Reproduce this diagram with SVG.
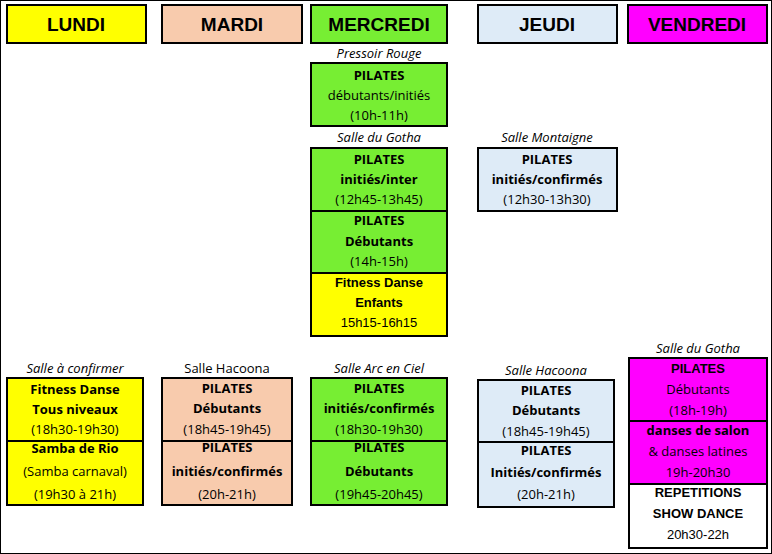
<svg xmlns="http://www.w3.org/2000/svg" width="772" height="554" viewBox="0 0 772 554">
<style>
rect{stroke:#000;stroke-width:2}
.h{font-family:"Liberation Sans",Arial,sans-serif;font-weight:bold;font-size:19px;text-anchor:middle}
.t{font-family:"Open Sans","Noto Sans",sans-serif;font-size:13px;text-anchor:middle}
.b{font-weight:bold}
.i{font-style:italic}
.a{font-family:"Liberation Sans",Arial,sans-serif}
.y{fill:#ffff00}.p{fill:#f8cbad}.g{fill:#77ee33}.l{fill:#deebf7}.m{fill:#ff00ff}.w{fill:#fff}
</style>
<rect width="772" height="554" fill="#fff" stroke="none"/>
<g id="hdr-lundi"><rect class="y" x="7" y="5" width="139" height="38"/><text class="h" x="76" y="31">LUNDI</text></g>
<g id="hdr-mardi"><rect class="p" x="162" y="5" width="140" height="38"/><text class="h" x="232" y="31">MARDI</text></g>
<g id="hdr-mercredi"><rect class="g" x="311" y="5" width="136" height="38"/><text class="h" x="379" y="31">MERCREDI</text></g>
<g id="hdr-jeudi"><rect class="l" x="478" y="5" width="139" height="38"/><text class="h" x="547" y="31">JEUDI</text></g>
<g id="hdr-vendredi"><rect class="m" x="628" y="5" width="139" height="38"/><text class="h" x="697" y="31">VENDREDI</text></g>

<g id="mer1"><text class="t i" x="379" y="58">Pressoir Rouge</text>
<rect class="g" x="311" y="63" width="136" height="63"/>
<text class="t b" x="379" y="80">PILATES</text><text class="t" x="379" y="100">débutants/initiés</text><text class="t" x="379" y="120">(10h-11h)</text></g>
<g id="mer2"><text class="t i" x="379" y="142">Salle du Gotha</text>
<rect class="g" x="311" y="148" width="136" height="63"/>
<text class="t b" x="379" y="164">PILATES</text><text class="t b" x="379" y="184">initiés/inter</text><text class="t" x="379" y="204">(12h45-13h45)</text></g>
<g id="mer3"><rect class="g" x="311" y="211" width="136" height="62"/>
<text class="t b" x="379" y="225">PILATES</text><text class="t b" x="379" y="246">Débutants</text><text class="t" x="379" y="266">(14h-15h)</text></g>
<g id="mer4"><rect class="y" x="311" y="273" width="136" height="63"/>
<text class="t b a" x="379" y="287">Fitness Danse</text><text class="t b a" x="379" y="307">Enfants</text><text class="t a" x="379" y="327">15h15-16h15</text></g>
<g id="jeu1"><text class="t i" x="547" y="142">Salle Montaigne</text>
<rect class="l" x="478" y="148" width="139" height="63"/>
<text class="t b" x="547" y="164">PILATES</text><text class="t b" x="547" y="184">initiés/confirmés</text><text class="t" x="547" y="204">(12h30-13h30)</text></g>

<g id="lun1"><text class="t i" x="75" y="373">Salle à confirmer</text>
<rect class="y" x="7" y="378" width="136" height="63"/>
<text class="t b" x="75" y="394">Fitness Danse</text><text class="t b" x="75" y="414">Tous niveaux</text><text class="t" x="75" y="434">(18h30-19h30)</text></g>
<g id="lun2"><rect class="y" x="7" y="441" width="136" height="64"/>
<text class="t b" x="75" y="453">Samba de Rio</text><text class="t" x="75" y="476">(Samba carnaval)</text><text class="t" x="75" y="499">(19h30 à 21h)</text></g>
<g id="mar1"><text class="t" x="227" y="373">Salle Hacoona</text>
<rect class="p" x="162" y="378" width="130" height="63"/>
<text class="t b" x="227" y="393">PILATES</text><text class="t b" x="227" y="413">Débutants</text><text class="t" x="227" y="434">(18h45-19h45)</text></g>
<g id="mar2"><rect class="p" x="162" y="441" width="130" height="64"/>
<text class="t b" x="227" y="452">PILATES</text><text class="t b" x="227" y="476">initiés/confirmés</text><text class="t" x="227" y="499">(20h-21h)</text></g>
<g id="mer5"><text class="t i" x="379" y="373">Salle Arc en Ciel</text>
<rect class="g" x="311" y="378" width="136" height="63"/>
<text class="t b" x="379" y="393">PILATES</text><text class="t b" x="379" y="413">initiés/confirmés</text><text class="t" x="379" y="434">(18h30-19h30)</text></g>
<g id="mer6"><rect class="g" x="311" y="441" width="136" height="64"/>
<text class="t b" x="379" y="452">PILATES</text><text class="t b" x="379" y="476">Débutants</text><text class="t" x="379" y="499">(19h45-20h45)</text></g>
<g id="jeu2"><text class="t i" x="546" y="375">Salle Hacoona</text>
<rect class="l" x="478" y="380" width="136" height="62"/>
<text class="t b" x="546" y="395">PILATES</text><text class="t b" x="546" y="415">Débutants</text><text class="t" x="546" y="436">(18h45-19h45)</text></g>
<g id="jeu3"><rect class="l" x="478" y="442" width="136" height="65"/>
<text class="t b" x="546" y="455">PILATES</text><text class="t b" x="546" y="477">Initiés/confirmés</text><text class="t" x="546" y="499">(20h-21h)</text></g>
<g id="ven1"><text class="t i" x="698" y="353">Salle du Gotha</text>
<rect class="m" x="629" y="358" width="138" height="63"/>
<text class="t b a" x="698" y="373">PILATES</text><text class="t" x="698" y="394">Débutants</text><text class="t" x="698" y="415">(18h-19h)</text></g>
<g id="ven2"><rect class="m" x="629" y="421" width="138" height="63"/>
<text class="t b" x="698" y="435">danses de salon</text><text class="t" x="698" y="456">&amp; danses latines</text><text class="t" x="698" y="477">19h-20h30</text></g>
<g id="ven3"><rect class="w" x="629" y="484" width="138" height="64"/>
<text class="t b a" x="698" y="497">REPETITIONS</text><text class="t b a" x="698" y="518">SHOW DANCE</text><text class="t a" x="698" y="539">20h30-22h</text></g>
<g id="connectors"/>
</svg>
